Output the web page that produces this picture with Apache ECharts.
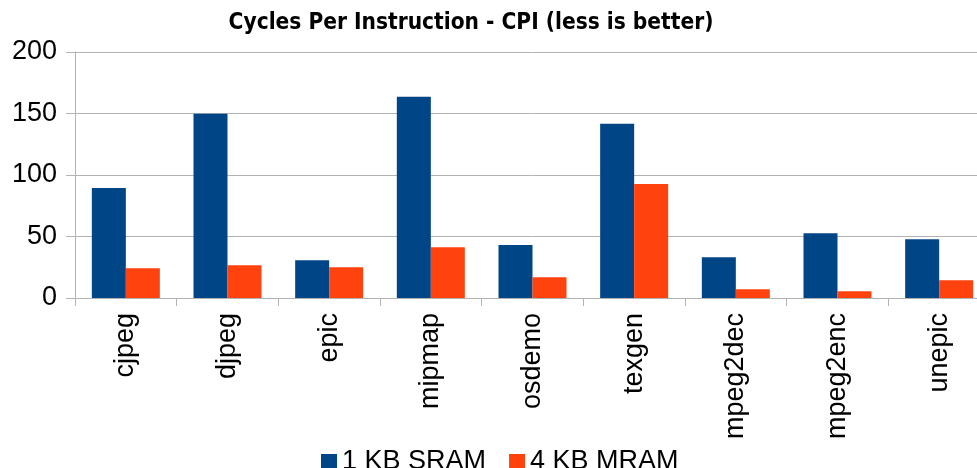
<!DOCTYPE html>
<html>
<head>
<meta charset="utf-8">
<script src="https://cdn.jsdelivr.net/npm/echarts@6/dist/echarts.min.js"></script>
<style>
  html, body { margin: 0; padding: 0; background: #fff; overflow: hidden; }
  #main { width: 990px; height: 468px; }
</style>
</head>
<body>
<div id="main"></div>
<script>
const categories = ["cjpeg", "djpeg", "epic", "mipmap", "osdemo", "texgen", "mpeg2dec", "mpeg2enc", "unepic"];
const sram1kb = [89.4, 149.7, 30.7, 163.6, 43.0, 141.6, 33.2, 52.7, 47.8];
const mram4kb = [24.2, 26.6, 25.0, 41.3, 16.9, 92.7, 7.1, 5.5, 14.5];
const seriesNames = ["1 KB SRAM", "4 KB MRAM"];

// chart is a bit wider than the window: the reference plot runs past the right edge
const chart = echarts.init(document.getElementById("main"));
const font = "'Liberation Sans', Arial, sans-serif";
const grey = "#b3b3b3";

const option = {
  animation: false,
  title: {
    text: "Cycles Per Instruction - CPI (less is better)",
    left: 466,
    textAlign: "center",
    top: 7,
    textStyle: {
      fontFamily: "'Liberation Sans Narrow', 'DejaVu Sans Condensed', sans-serif",
      fontWeight: "bold",
      fontSize: 22.5,
      color: "#000"
    }
  },
  legend: {
    data: seriesNames,
    left: 316,
    top: 443,
    icon: "rect",
    itemWidth: 16,
    itemHeight: 16,
    itemGap: 23,
    textStyle: { fontFamily: font, fontSize: 27, color: "#000", lineHeight: 28 }
  },
  grid: { left: 75, right: 0, top: 52, bottom: 170, containLabel: false },
  xAxis: {
    type: "category",
    data: categories,
    axisLine: { lineStyle: { color: grey } },
    axisTick: { show: true, length: 8, lineStyle: { color: grey } },
    axisLabel: {
      rotate: 90,
      margin: 15,
      fontFamily: font,
      fontSize: 27,
      color: "#000",
      interval: 0
    }
  },
  yAxis: {
    type: "value",
    min: 0,
    max: 200,
    interval: 50,
    axisLine: { show: true, lineStyle: { color: grey } },
    axisTick: { show: true, length: 9, lineStyle: { color: grey } },
    splitLine: { lineStyle: { color: grey } },
    axisLabel: { margin: 18, fontFamily: font, fontSize: 27, color: "#000" }
  },
  series: [
    {
      name: seriesNames[0],
      type: "bar",
      data: sram1kb,
      barWidth: 34,
      barGap: "0%",
      itemStyle: { color: "#004586" }
    },
    {
      name: seriesNames[1],
      type: "bar",
      data: mram4kb,
      barWidth: 34,
      barGap: "0%",
      itemStyle: { color: "#ff420e" }
    }
  ]
};

chart.setOption(option);
</script>
</body>
</html>
